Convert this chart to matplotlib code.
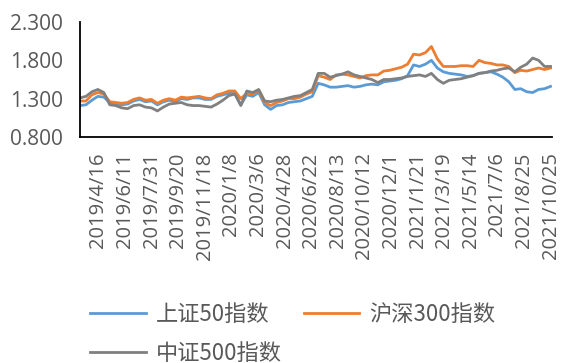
import numpy as np
import matplotlib
matplotlib.use("Agg")
import matplotlib.pyplot as plt

sz50 = [1.21, 1.22, 1.28, 1.33, 1.32, 1.25, 1.23, 1.22, 1.23, 1.27,
        1.29, 1.26, 1.27, 1.22, 1.26, 1.28, 1.26, 1.30, 1.29, 1.31,
        1.31, 1.29, 1.29, 1.33, 1.35, 1.37, 1.37, 1.22, 1.35, 1.33,
        1.38, 1.22, 1.16, 1.21, 1.22, 1.25, 1.26, 1.27, 1.30, 1.33,
        1.50, 1.48, 1.45, 1.45, 1.46, 1.47, 1.45, 1.46, 1.48, 1.49,
        1.48, 1.52, 1.53, 1.54, 1.56, 1.60, 1.74, 1.72, 1.75, 1.80,
        1.70, 1.65, 1.63, 1.62, 1.61, 1.59, 1.60, 1.63, 1.64, 1.65,
        1.62, 1.58, 1.52, 1.42, 1.43, 1.39, 1.38, 1.42, 1.43, 1.46]
hs300 = [1.27, 1.27, 1.35, 1.38, 1.36, 1.26, 1.25, 1.24, 1.25, 1.29,
         1.31, 1.28, 1.29, 1.24, 1.28, 1.30, 1.28, 1.32, 1.31, 1.32,
         1.33, 1.31, 1.30, 1.35, 1.37, 1.40, 1.40, 1.30, 1.37, 1.36,
         1.41, 1.25, 1.21, 1.25, 1.27, 1.30, 1.30, 1.32, 1.36, 1.39,
         1.60, 1.58, 1.55, 1.61, 1.62, 1.61, 1.59, 1.57, 1.60, 1.61,
         1.61, 1.66, 1.67, 1.69, 1.71, 1.75, 1.88, 1.87, 1.90, 1.98,
         1.82, 1.72, 1.72, 1.72, 1.73, 1.73, 1.72, 1.80, 1.77, 1.76,
         1.74, 1.74, 1.72, 1.64, 1.67, 1.66, 1.68, 1.70, 1.68, 1.70]
zz500 = [1.31, 1.33, 1.39, 1.42, 1.38, 1.22, 1.21, 1.18, 1.17, 1.21,
         1.22, 1.19, 1.18, 1.14, 1.19, 1.23, 1.24, 1.25, 1.22, 1.21,
         1.21, 1.20, 1.19, 1.23, 1.28, 1.34, 1.36, 1.21, 1.40, 1.38,
         1.42, 1.27, 1.26, 1.28, 1.29, 1.31, 1.33, 1.34, 1.38, 1.42,
         1.63, 1.63, 1.58, 1.60, 1.62, 1.65, 1.61, 1.59, 1.57, 1.55,
         1.51, 1.55, 1.55, 1.56, 1.57, 1.59, 1.60, 1.61, 1.59, 1.63,
         1.55, 1.50, 1.54, 1.55, 1.56, 1.58, 1.60, 1.63, 1.64, 1.66,
         1.67, 1.69, 1.70, 1.65, 1.71, 1.75, 1.83, 1.80, 1.72, 1.72]

date_labels = ["2019/4/16", "2019/6/11", "2019/7/31", "2019/9/20", "2019/11/18",
               "2020/1/8", "2020/3/6", "2020/4/28", "2020/6/22", "2020/8/13",
               "2020/10/12", "2020/12/1", "2021/1/21", "2021/3/19", "2021/5/14",
               "2021/7/6", "2021/8/25", "2021/10/25"]
series_names = ["上证50指数", "沪深300指数", "中证500指数"]
colors = ["#5B9BD5", "#ED7D31", "#808080"]

n_days = 638  # trading days covered by the chart
label_step = 36
days = np.linspace(0, n_days - 1, len(sz50))
tick_pos = [n_days - 1 - label_step * (len(date_labels) - 1 - i) for i in range(len(date_labels))]

fig = plt.figure(figsize=(5.62, 3.63), dpi=100)
ax = fig.add_axes([80 / 562, 1 - 137 / 363, 472 / 562, 115 / 363])

lines = []
for vals, name, c in zip([sz50, hs300, zz500], series_names, colors):
    ln, = ax.plot(days, vals, color=c, lw=2.0, label=name)
    lines.append(ln)

ax.set_xlim(0, n_days - 1 + 2)
ax.set_ylim(0.8, 2.3)
ax.set_yticks([0.8, 1.3, 1.8, 2.3])
ax.set_yticklabels(["%.3f" % v for v in [0.8, 1.3, 1.8, 2.3]])
ax.set_xticks(tick_pos)
ax.set_xticklabels(date_labels, rotation=90)

for s in ["top", "right"]:
    ax.spines[s].set_visible(False)
for s in ["left", "bottom"]:
    ax.spines[s].set_linewidth(1.3)
    ax.spines[s].set_color("black")

ax.tick_params(axis="y", length=0, pad=12, labelsize=15, labelcolor="#595959")
ax.tick_params(axis="x", length=0, pad=11, labelsize=14.5, labelcolor="#595959")
for t in ax.get_xticklabels() + ax.get_yticklabels():
    t.set_family("Open Sans")

# legend filled row by row: two entries on the first row, one on the second
order = [0, 2, 1]
leg = fig.legend([lines[i] for i in order], [series_names[i] for i in order],
                 loc="upper left", bbox_to_anchor=(90 / 562, 1 - 303 / 363),
                 ncol=2, frameon=False, borderpad=0, borderaxespad=0,
                 handlelength=2.5, handletextpad=0.45, columnspacing=1.0,
                 labelspacing=0.7,
                 prop={"family": ["Noto Sans CJK SC", "DejaVu Sans"], "size": 16})
for t in leg.get_texts():
    t.set_color("#595959")

fig.savefig("out.png", dpi=100)
